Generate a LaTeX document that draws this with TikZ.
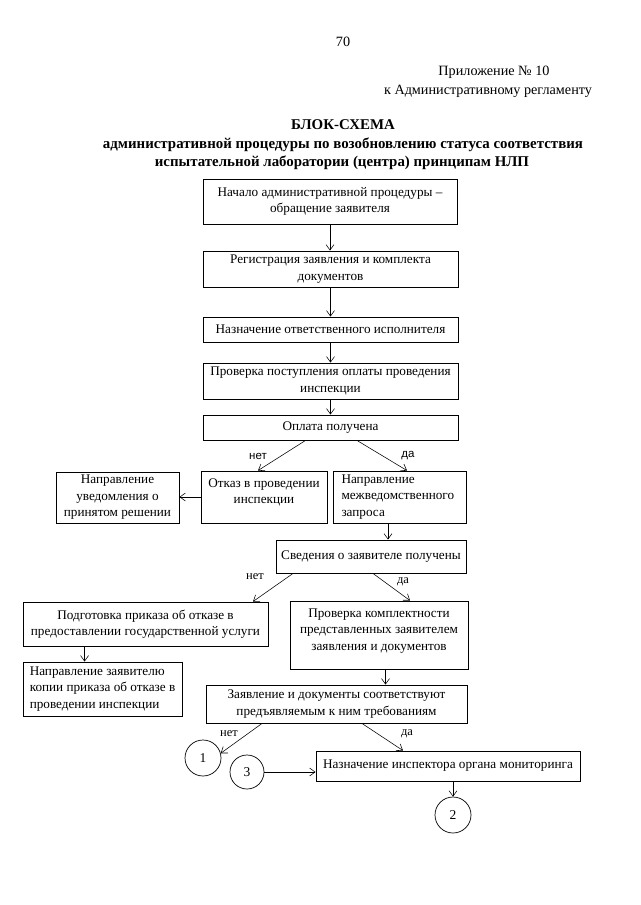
\documentclass[tikz,border=0pt]{standalone}
\usepackage{fontspec}
\setmainfont{Liberation Serif}
\newfontfamily\lsans{Liberation Sans}
\usetikzlibrary{arrows.meta,calc}
\tikzset{
  box/.style={draw, line width=0.9pt, rectangle, inner sep=0pt, align=center,
    font=\fontsize{13.2}{16.5}\selectfont},
  lbox/.style={box, align=left},
  circ/.style={draw, circle, line width=0.7pt, minimum size=36pt, inner sep=0pt,
    font=\fontsize{13.5}{15}\selectfont},
  arr/.style={line width=0.55pt, -{Straight Barb[length=5.5pt,width=8pt]}},
  lab/.style={font=\fontsize{12.5}{14}\selectfont, inner sep=0pt},
  slab/.style={font=\lsans\fontsize{11.5}{13}\selectfont, inner sep=0pt},
  hdr/.style={font=\fontsize{14.2}{17}\selectfont, inner sep=0pt},
  ttl/.style={font=\bfseries\fontsize{14.9}{17}\selectfont, inner sep=0pt}
}
\begin{document}
\begin{tikzpicture}[x=1pt,y=-1pt]
\useasboundingbox (0,0) rectangle (640,905);
\fill[white] (0,0) rectangle (640,905);

% header
\node[hdr] (pg) at (343,42) {70};
\node[hdr] (pril) at (494,72) {Приложение № 10};
\node[hdr] (reg) at (488,91) {к Административному регламенту};
\node[ttl] (t1) at (343,125) {БЛОК-СХЕМА};
\node[ttl] (t2) at (343,145) {административной процедуры по возобновлению статуса соответствия};
\node[ttl] (t3) at (342,163) {испытательной лаборатории (центра) принципам НЛП};

% boxes
\node[box, minimum width=254pt, minimum height=45pt] (b1) at (330,201.5)
  {Начало административной процедуры –\\обращение заявителя};
\node[box, minimum width=255pt, minimum height=36pt] (b2) at (330.5,269)
  {Регистрация заявления и комплекта\\документов};
\node[box, minimum width=255pt, minimum height=25pt] (b3) at (330.5,329.5)
  {Назначение ответственного исполнителя};
\node[box, minimum width=255pt, minimum height=36pt] (b4) at (330.5,381)
  {Проверка поступления оплаты проведения\\инспекции};
\node[box, minimum width=255pt, minimum height=25pt] (b5) at (330.5,427.5)
  {Оплата получена};

\node[box, minimum width=126pt, minimum height=52pt] (otkaz) at (264,497)
  {\parbox[c][52pt][t]{126pt}{\centering\rule{0pt}{16pt}Отказ в проведении\\инспекции}};
\node[lbox, text width=116pt, inner xsep=8.5pt, minimum height=52pt] (mezh) at (399.5,497)
  {Направление\\межведомственного\\запроса};
\node[box, minimum width=123pt, minimum height=51pt] (uved) at (117.5,497.5)
  {Направление\\уведомления о\\принятом решении};

\node[box, minimum width=190pt, minimum height=33pt] (sved) at (371,556.5)
  {Сведения о заявителе получены};

\node[box, minimum width=245pt, minimum height=44pt] (podg) at (145.5,624)
  {Подготовка приказа об отказе в\\предоставлении государственной услуги};
\node[box, minimum width=178pt, minimum height=68pt] (prov) at (379,635)
  {\parbox[c][68pt][t]{178pt}{\centering\rule{0pt}{16pt}Проверка комплектности\\представленных заявителем\\заявления и документов}};

\node[lbox, minimum width=159pt, minimum height=54pt] (kopii) at (102.5,689)
  {Направление заявителю\\копии приказа об отказе в\\проведении инспекции};

\node[box, minimum width=261pt, minimum height=38pt] (zayav) at (336.5,704)
  {Заявление и документы соответствуют\\предъявляемым к ним требованиям};

\node[box, minimum width=264pt, minimum height=30pt] (nazn) at (448,766)
  {Назначение инспектора органа мониторинга};

\node[circ] (c1) at (203,758) {1};
\node[circ, minimum size=34pt] (c3) at (247,772) {3};
\node[circ] (c2) at (453,815) {2};

% connectors
\draw[arr] (b1.south) -- (b1.south |- b2.north);
\draw[arr] (b2.south) -- (b2.south |- b3.north);
\draw[arr] (b3.south) -- (b3.south |- b4.north);
\draw[arr] (b4.south) -- (b4.south |- b5.north);

\draw[arr] ([xshift=-25pt]b5.south) -- ([xshift=-6pt]otkaz.north);
\draw[arr] ([xshift=26.5pt]b5.south) -- ([xshift=7.5pt]mezh.north);
\node[slab] (n1) at (258,456) {нет};
\node[slab] (d1) at (408,456) {да};

\draw[arr] (otkaz.west) -- (otkaz.west -| uved.east);
\draw[arr] ([xshift=-11.5pt]mezh.south) -- ([xshift=-11.5pt]mezh.south |- sved.north);

\draw[arr] ([xshift=-78pt]sved.south) -- ([xshift=107.5pt]podg.north);
\draw[arr] ([xshift=2pt]sved.south) -- ([xshift=31pt]prov.north);
\node[lab] (n2) at (255,577) {нет};
\node[lab] (d2) at (403,582) {да};

\draw[arr] ([xshift=62pt]podg.south west) -- ([xshift=62pt]podg.south west |- kopii.north);
\draw[arr] ([xshift=6.5pt]prov.south) -- ([xshift=6.5pt]prov.south |- zayav.north);

\draw[arr] ([xshift=-74.5pt]zayav.south) -- (c1.15);
\draw[arr] ([xshift=25.5pt]zayav.south) -- ([xshift=-45pt]nazn.north);
\node[lab] (n3) at (229,734) {нет};
\node[lab] (d3) at (407,734) {да};

\draw[arr] (c3.east) -- (c3.east -| nazn.west);
\draw[arr] (c2.north |- nazn.south) -- (c2.north);
\end{tikzpicture}
\end{document}
